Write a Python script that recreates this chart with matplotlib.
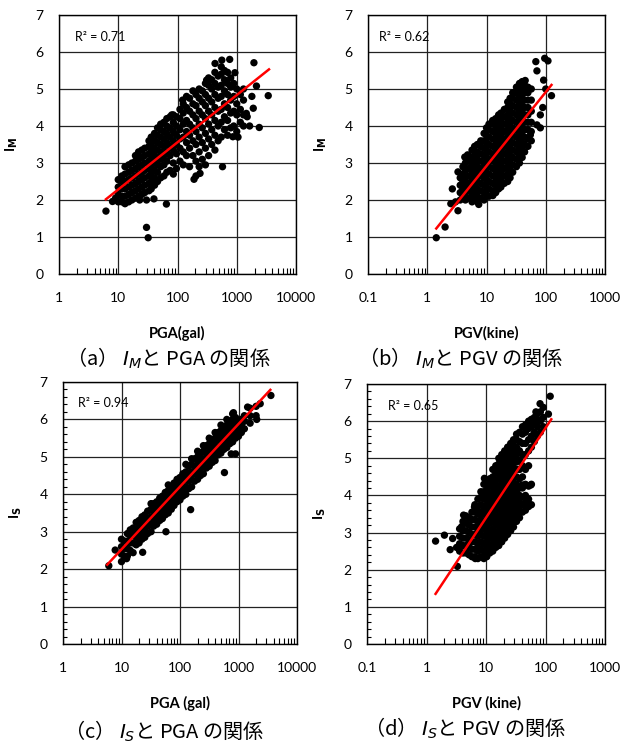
import numpy as np
import matplotlib
matplotlib.use("Agg")
import matplotlib.pyplot as plt
from matplotlib.ticker import LogLocator, MultipleLocator, FuncFormatter

plt.rcParams['font.family'] = ['Lato', 'DejaVu Sans']
plt.rcParams['mathtext.fontset'] = 'dejavusans'

# ---- data: columns of (x, [y values]) ----
# (a) I_M vs PGA
cols_a = [
    (6.2, [1.70]), (8.0, [1.96]), (9.0, [2.05]),
    (10, [1.95, 2.15, 2.35, 2.55]), (11.5, [1.95, 2.1, 2.3, 2.5, 2.65]),
    (13, [1.9, 2.1, 2.3, 2.5, 2.7, 2.9]), (15, [1.95, 2.15, 2.35, 2.55, 2.75, 2.95]),
    (17, [2.0, 2.2, 2.4, 2.6, 2.8, 3.0]), (19.5, [2.05, 2.25, 2.45, 2.65, 2.85, 3.05, 3.2]),
    (22, [2.1, 2.3, 2.5, 2.7, 2.9, 3.1, 3.3]), (23, [2.0]),
    (25, [2.15, 2.35, 2.55, 2.75, 2.95, 3.15, 3.35]),
    (28, [2.2, 2.4, 2.6, 2.8, 3.0, 3.2, 3.4]), (30, [1.26, 2.0]), (32, [0.98]),
    (33, [2.25, 2.45, 2.65, 2.85, 3.05, 3.25, 3.45, 3.6]),
    (36, [2.3, 2.5, 2.7, 2.9, 3.1, 3.3, 3.5, 3.7]), (40, [2.03]),
    (41, [2.4, 2.6, 2.8, 3.0, 3.2, 3.4, 3.6, 3.8]),
    (46, [2.5, 2.75, 2.95, 3.15, 3.35, 3.55, 3.75, 3.95]),
    (52, [2.6, 2.9, 3.1, 3.3, 3.5, 3.7, 3.9, 4.05]),
    (59, [2.65, 2.95, 3.2, 3.45, 3.65, 3.85, 4.1]), (65, [1.89]),
    (66, [2.75, 3.05, 3.3, 3.55, 3.8, 4.0, 4.2]),
    (75, [2.8, 3.2, 3.45, 3.7, 3.95, 4.25]), (80, [4.3]),
    (85, [2.7, 3.0, 3.35, 3.6, 3.85, 4.1, 4.3]),
    (96, [2.85, 3.25, 3.5, 3.75, 4.0, 4.25]),
    (110, [3.05, 3.4, 3.65, 3.9, 4.2, 4.45]), (122, [4.7]),
    (125, [2.95, 3.3, 3.7, 4.05, 4.35, 4.6]),
    (142, [3.2, 3.55, 3.85, 4.15, 4.5, 4.8]),
    (160, [2.9, 3.4, 3.75, 4.05, 4.4, 4.75]),
    (182, [3.2, 3.6, 3.95, 4.3, 4.6, 4.95]), (190, [2.56]),
    (205, [2.65, 3.05, 3.5, 3.85, 4.2, 4.55, 4.85]),
    (232, [2.9, 3.3, 3.7, 4.05, 4.4, 4.75, 5.0]), (240, [2.72]),
    (262, [3.1, 3.55, 3.95, 4.3, 4.65, 4.95]),
    (296, [2.95, 3.4, 3.8, 4.2, 4.55, 4.85, 5.15]), (310, [5.24]),
    (335, [3.2, 3.65, 4.05, 4.4, 4.75, 5.1, 5.3]),
    (378, [3.5, 3.9, 4.3, 4.65, 5.0, 5.25]), (430, [5.69]),
    (428, [3.35, 3.75, 4.15, 4.5, 4.85, 5.15, 5.45]),
    (485, [3.6, 4.0, 4.4, 4.75, 5.05, 5.35]), (560, [5.78]),
    (548, [3.7, 4.1, 4.45, 4.8, 5.1, 5.4, 5.6]), (575, [2.9]),
    (620, [3.9, 4.25, 4.6, 4.95, 5.25, 5.5]),
    (700, [3.75, 4.15, 4.5, 4.85, 5.15, 5.45]), (760, [5.8]),
    (790, [3.95, 4.35, 4.7, 5.05, 5.3]), (860, [3.71]),
    (890, [4.0, 4.4, 4.8, 5.15]), (930, [5.44]),
    (1000, [3.85, 4.3, 4.6, 5.0]), (1050, [3.7]),
    (1150, [4.1, 4.45, 4.85]), (1300, [4.0, 4.3, 4.7, 5.0]),
    (1450, [4.34]), (1500, [4.25]), (1650, [4.0]), (1800, [4.8]),
    (1900, [4.48]), (1950, [5.71]), (2150, [5.08]), (2400, [3.96]), (3400, [4.82]),
]

# (b) I_M vs PGV
cols_b = [
    (1.42, [0.98]), (2.0, [1.27]), (2.5, [1.90]), (2.65, [2.3]), (3.0, [1.95]),
    (3.3, [1.71, 2.76]),
    (3.6, [2.0, 2.2, 2.4, 2.6]), (4.0, [2.1, 2.3, 2.5, 2.7, 2.9]), (4.3, [3.16]),
    (4.4, [2.0, 2.2, 2.4, 2.6, 2.8, 3.0]), (4.8, [3.22]),
    (5.0, [2.05, 2.25, 2.45, 2.65, 2.85, 3.05, 3.2]),
    (5.7, [1.95, 2.15, 2.35, 2.55, 2.75, 2.95, 3.15, 3.35]),
    (6.3, [2.0, 2.2, 2.4, 2.6, 2.8, 3.0, 3.2, 3.45]),
    (7.0, [1.95, 2.1, 2.3, 2.5, 2.7, 2.9, 3.1, 3.3, 3.5]), (7.4, [1.88]),
    (8.0, [2.05, 2.25, 2.45, 2.65, 2.85, 3.05, 3.25, 3.45, 3.6]),
    (9.1, [2.0, 2.2, 2.4, 2.6, 2.8, 3.0, 3.2, 3.4, 3.6, 3.8]),
    (10, [2.15, 2.35, 2.55, 2.75, 2.95, 3.15, 3.35, 3.55, 3.75, 3.95]),
    (11, [2.1, 2.3, 2.5, 2.7, 2.9, 3.1, 3.3, 3.5, 3.7, 3.9, 4.05]),
    (12.7, [2.25, 2.45, 2.65, 2.85, 3.05, 3.25, 3.45, 3.65, 3.85, 4.05, 4.15]),
    (12.8, [2.12]),
    (14.3, [2.2, 2.4, 2.6, 2.8, 3.0, 3.2, 3.4, 3.6, 3.8, 4.0, 4.2]),
    (16, [2.3, 2.5, 2.7, 2.9, 3.1, 3.3, 3.5, 3.7, 3.9, 4.1, 4.3]),
    (17.5, [2.35, 2.55, 2.75, 2.95, 3.15, 3.35, 3.55, 3.75, 3.95, 4.15, 4.35]),
    (20, [2.45, 2.65, 2.85, 3.05, 3.25, 3.45, 3.65, 3.85, 4.05, 4.25, 4.45]),
    (22.8, [2.5, 2.7, 2.9, 3.1, 3.3, 3.5, 3.7, 3.9, 4.1, 4.3, 4.5, 4.65]),
    (25, [2.6, 2.8, 3.0, 3.2, 3.4, 3.6, 3.8, 4.0, 4.2, 4.4, 4.6, 4.75]),
    (27.7, [2.75, 2.95, 3.15, 3.35, 3.55, 3.75, 3.95, 4.15, 4.35, 4.55, 4.75, 4.9]),
    (32, [2.9, 3.1, 3.3, 3.5, 3.7, 3.9, 4.1, 4.3, 4.5, 4.7, 4.9, 5.05]),
    (36, [3.0, 3.2, 3.4, 3.6, 3.8, 4.0, 4.2, 4.4, 4.6, 4.8, 5.0, 5.15]),
    (40, [3.15, 3.35, 3.55, 3.75, 3.95, 4.15, 4.35, 4.55, 4.75, 4.95, 5.2]),
    (44, [3.3, 3.5, 3.7, 3.9, 4.1, 4.3, 4.5, 4.7, 4.9, 5.1]), (45, [5.23]),
    (50, [3.45, 3.65, 3.9, 4.1, 4.3, 4.5, 4.7, 4.9, 5.05]), (55, [3.76]),
    (57, [3.6, 3.85, 4.1, 4.4, 4.7, 5.0]),
    (68, [5.74]), (71, [4.03, 5.49]), (81, [3.95, 4.3]), (89, [4.5]),
    (92, [5.24]), (96, [5.83]), (100, [5.0]), (109, [5.76]), (125, [4.82]),
]

# (c) I_S vs PGA
cols_c = [
    (6.07, [2.09]), (7.8, [2.51]),
    (10, [2.2, 2.4, 2.6, 2.8]), (11.2, [2.35, 2.55, 2.75]),
    (12.2, [2.28]), (12.6, [2.35, 2.55, 2.75, 2.95]),
    (14.1, [2.5, 2.7, 2.9, 3.05]), (15.8, [2.44, 2.7, 2.9, 3.1]),
    (17.8, [2.65, 2.85, 3.05, 3.25]), (20, [2.7, 2.9, 3.1, 3.3]),
    (22.4, [2.8, 3.0, 3.2, 3.4]), (23, [2.45]), (25, [2.85, 3.05, 3.25, 3.45]),
    (28, [2.95, 3.15, 3.35, 3.55]), (32, [3.0, 3.2, 3.4, 3.6, 3.75]),
    (35.5, [3.15, 3.35, 3.55, 3.75]), (40, [3.2, 3.4, 3.6, 3.8]),
    (45, [3.3, 3.5, 3.7, 3.9]), (50, [3.35, 3.55, 3.75, 3.95]),
    (56, [3.45, 3.65, 3.85, 4.05]), (57.5, [3.0]),
    (63, [3.5, 3.7, 3.9, 4.1, 4.25]), (71, [3.6, 3.8, 4.0, 4.2]),
    (79, [3.7, 3.9, 4.1, 4.3]), (89, [3.8, 4.0, 4.2, 4.4]),
    (100, [3.85, 4.05, 4.25, 4.45]), (112, [3.95, 4.15, 4.35, 4.55]),
    (126, [4.0, 4.2, 4.4, 4.6, 4.8]), (141, [4.15, 4.35, 4.55, 4.75]),
    (152, [3.59]), (158, [4.2, 4.4, 4.6, 4.8, 4.95]),
    (178, [4.35, 4.55, 4.75, 4.95]), (200, [4.4, 4.6, 4.8, 5.0, 5.15]),
    (224, [4.5, 4.7, 4.9, 5.1]), (251, [4.55, 4.75, 4.95, 5.15, 5.3]),
    (282, [4.7, 4.9, 5.1, 5.3]), (316, [4.75, 4.95, 5.15, 5.35, 5.5]),
    (355, [4.85, 5.05, 5.25, 5.45]), (398, [4.9, 5.1, 5.3, 5.5, 5.65]),
    (447, [5.05, 5.25, 5.45, 5.65]), (501, [5.1, 5.3, 5.5, 5.7, 5.85]),
    (562, [5.2, 5.4, 5.6, 5.8]), (575, [4.58]),
    (631, [5.25, 5.45, 5.65, 5.85, 6.0]), (708, [5.35, 5.55, 5.75, 5.95]),
    (750, [5.08]), (794, [5.4, 5.6, 5.8, 6.0, 6.15]), (820, [6.18]),
    (890, [5.08]), (891, [5.5, 5.7, 5.9, 6.05]),
    (1000, [5.55, 5.75, 5.95]), (1120, [5.65, 5.85, 6.0]),
    (1260, [5.75, 5.95, 6.1]), (1430, [6.33]), (1580, [5.9, 6.1, 6.3]),
    (2000, [6.1, 6.35]), (2050, [6.0]), (2350, [6.42]), (3580, [6.64]),
]

# (d) I_S vs PGV
cols_d = [
    (1.42, [2.77]), (2.0, [2.93]), (2.5, [2.54]), (2.75, [2.84]),
    (3.2, [2.6]), (3.3, [2.09]),
    (3.6, [2.5, 2.7, 2.9, 3.1]), (3.9, [3.16]),
    (4.1, [2.45, 2.65, 2.85, 3.05, 3.3]), (4.2, [3.47]),
    (4.6, [2.45, 2.65, 2.85, 3.05, 3.25, 3.45]),
    (5.2, [2.4, 2.6, 2.8, 3.0, 3.2, 3.4]),
    (5.8, [2.35, 2.55, 2.75, 2.95, 3.15, 3.35, 3.55]),
    (6.4, [3.69]), (6.6, [2.3]),
    (6.5, [2.35, 2.55, 2.75, 2.95, 3.15, 3.35, 3.55, 3.75]),
    (7.3, [2.3, 2.5, 2.7, 2.9, 3.1, 3.3, 3.5, 3.7, 3.9]),
    (8.2, [2.35, 2.55, 2.75, 2.95, 3.15, 3.35, 3.55, 3.75, 3.95, 4.1]),
    (9.2, [2.3, 2.5, 2.7, 2.9, 3.1, 3.3, 3.5, 3.7, 3.9, 4.1, 4.3]),
    (9.4, [4.46]), (10, [2.38]),
    (10.3, [2.35, 2.55, 2.75, 2.95, 3.15, 3.35, 3.55, 3.75, 3.95, 4.15, 4.35]),
    (11.6, [2.45, 2.65, 2.85, 3.05, 3.25, 3.45, 3.65, 3.85, 4.05, 4.25, 4.45]),
    (13, [2.5, 2.7, 2.9, 3.1, 3.3, 3.5, 3.7, 3.9, 4.1, 4.3, 4.5, 4.7]),
    (14.6, [2.6, 2.8, 3.0, 3.2, 3.4, 3.6, 3.8, 4.0, 4.2, 4.4, 4.6, 4.8]),
    (16.4, [2.65, 2.85, 3.05, 3.25, 3.45, 3.65, 3.85, 4.05, 4.25, 4.45, 4.65, 4.85, 5.0]),
    (18.4, [2.75, 2.95, 3.15, 3.35, 3.55, 3.75, 3.95, 4.15, 4.35, 4.55, 4.75, 4.95, 5.1]),
    (20.6, [2.85, 3.05, 3.25, 3.45, 3.65, 3.85, 4.05, 4.25, 4.45, 4.65, 4.85, 5.05, 5.2]),
    (23.1, [2.95, 3.15, 3.35, 3.55, 3.75, 3.95, 4.15, 4.35, 4.55, 4.75, 4.95, 5.15, 5.3]),
    (26, [3.05, 3.25, 3.45, 3.65, 3.85, 4.05, 4.25, 4.45, 4.65, 4.85, 5.05, 5.25, 5.4]),
    (29, [3.15, 3.35, 3.55, 3.75, 3.95, 4.15, 4.35, 4.55, 4.75, 4.95, 5.15, 5.35, 5.5]),
    (32.6, [3.3, 3.5, 3.7, 3.9, 4.1, 4.3, 4.5, 4.7, 4.9, 5.1, 5.3, 5.5, 5.65]),
    (36.6, [3.4, 3.6, 3.8, 4.0, 4.2, 4.45, 4.7, 4.95, 5.2, 5.45, 5.7]),
    (40.5, [4.28]),
    (41, [3.55, 3.75, 3.95, 4.2, 4.5, 4.8, 5.1, 5.4, 5.65, 5.85]),
    (46, [3.6, 3.8, 4.0, 4.3, 4.7, 5.1, 5.4, 5.7, 5.9]), (48.5, [3.78]),
    (52, [3.7, 3.9, 4.25, 4.8, 5.2, 5.5, 5.8, 6.0]), (56.6, [4.28]),
    (58, [3.75, 4.3, 5.3, 5.6, 5.85, 6.05]),
    (65, [5.45, 5.7, 5.95, 6.1]), (69, [6.25]),
    (73, [5.6, 5.85, 6.05, 6.2]), (81, [6.47]),
    (82, [5.7, 6.0, 6.25]), (92, [5.85, 6.1, 6.37]),
    (112, [6.19]), (120, [6.67]),
]

# regression lines (end points)
fit_a_x, fit_a_y = [6.2, 3500], [2.02, 5.53]
fit_b_x, fit_b_y = [1.42, 125], [1.23, 5.11]
fit_c_x, fit_c_y = [5.7, 3500], [2.12, 6.79]
fit_d_x, fit_d_y = [1.42, 125], [1.35, 6.05]

r2_labels = ['R² = 0.71', 'R² = 0.62', 'R² = 0.94', 'R² = 0.65']
xlabels = ['PGA(gal)', 'PGV(kine)', 'PGA (gal)', 'PGV (kine)']
ylabels = ['I$_\\mathbf{M}$', 'I$_\\mathbf{M}$', 'I$_\\mathbf{S}$', 'I$_\\mathbf{S}$']
captions = ['（a） $I_M$と PGA の関係', '（b） $I_M$と PGV の関係',
            '（c） $I_S$と PGA の関係', '（d） $I_S$と PGV の関係']


def flat(cols):
    xs, ys = [], []
    for x, yl in cols:
        for y in yl:
            xs.append(x)
            ys.append(y)
    return np.array(xs), np.array(ys)


fig = plt.figure(figsize=(6.3, 7.44), dpi=100)
W, H = 630, 744
# axes boxes in pixels: left, top, right, bottom
boxes = [(59, 15, 296, 274), (368, 15, 605, 274),
         (63, 382, 297, 644), (367, 384, 605, 644)]
xlims = [(1, 10000), (0.1, 1000), (1, 10000), (0.1, 1000)]
data = [cols_a, cols_b, cols_c, cols_d]
fits = [(fit_a_x, fit_a_y), (fit_b_x, fit_b_y), (fit_c_x, fit_c_y), (fit_d_x, fit_d_y)]
r2_pos = [(0.068, 0.915), (0.045, 0.915), (0.064, 0.92), (0.087, 0.915)]
cap_pos = [(168, 358), (461, 358), (164, 731), (465, 728)]
yminor = [False, False, True, True]


def fmt(v, pos):
    if v >= 1:
        return '%d' % v
    return '%g' % v


for i in range(4):
    l, t, r, b = boxes[i]
    ax = fig.add_axes([l / W, 1 - b / H, (r - l) / W, (b - t) / H])
    ax.set_xscale('log')
    ax.set_xlim(*xlims[i])
    ax.set_ylim(0, 7)
    ax.xaxis.set_major_locator(LogLocator(base=10, numticks=10))
    ax.xaxis.set_minor_locator(LogLocator(base=10, subs=np.arange(2, 10), numticks=10))
    ax.xaxis.set_major_formatter(FuncFormatter(fmt))
    ax.yaxis.set_major_locator(MultipleLocator(1))
    if yminor[i]:
        ax.yaxis.set_minor_locator(MultipleLocator(0.2))
    ax.grid(True, which='major', color='#222222', linewidth=0.9)
    ax.set_axisbelow(True)
    ax.tick_params(which='both', direction='in', top=False, right=False)
    ax.tick_params(axis='x', which='major', length=0, pad=13, labelsize=10)
    ax.tick_params(axis='x', which='minor', length=4, width=0.8)
    ax.tick_params(axis='y', which='major', length=0, pad=11, labelsize=10)
    ax.tick_params(axis='y', which='minor', length=3, width=0.8)
    for s in ax.spines.values():
        s.set_color('black')
        s.set_linewidth(1.0)

    xs, ys = flat(data[i])
    ax.scatter(xs, ys, s=28, color='black', edgecolors='none', zorder=3, clip_on=False)
    fx, fy = fits[i]
    ax.plot(fx, fy, color='red', linewidth=1.8, zorder=4)

    ax.text(r2_pos[i][0], r2_pos[i][1], r2_labels[i], transform=ax.transAxes,
            fontsize=9, va='center', ha='left', zorder=5)
    ax.set_xlabel(xlabels[i], fontsize=10.5, fontweight='bold')
    ax.xaxis.set_label_coords(0.5, -0.2)
    ax.set_ylabel(ylabels[i], fontsize=10, fontweight='bold')
    ax.yaxis.set_label_coords(-0.165, 0.5)

    fig.text(cap_pos[i][0] / W, 1 - cap_pos[i][1] / H, captions[i],
             fontsize=14.5, ha='center', va='center',
             family=['Noto Sans CJK JP', 'DejaVu Sans'])

fig.savefig('out.png', dpi=100)
